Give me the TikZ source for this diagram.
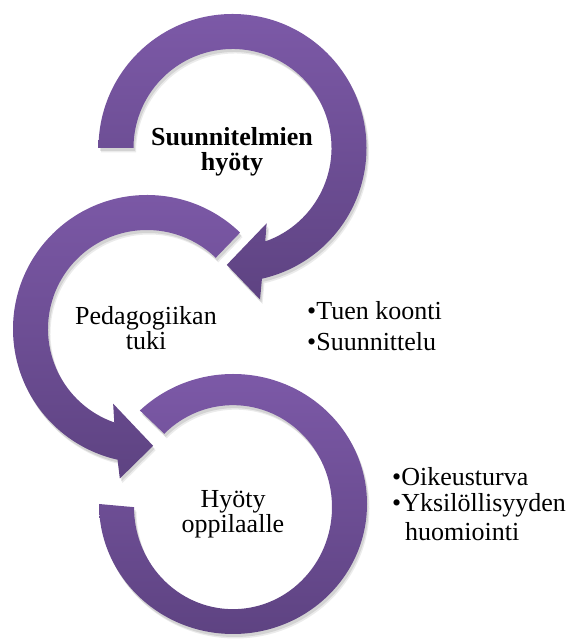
\documentclass[tikz,border=0pt]{standalone}
\usepackage{fontspec}
\setmainfont{Liberation Serif}
\usetikzlibrary{calc}
\definecolor{ptop}{RGB}{124,89,167}
\definecolor{pbot}{RGB}{94,67,130}
\tikzset{
  band/.style={top color=ptop, bottom color=pbot, draw=none,
    preaction={fill=black, fill opacity=0.10, transform canvas={xshift=1.5pt,yshift=-3pt}},
    preaction={fill=black, fill opacity=0.08, transform canvas={xshift=2.5pt,yshift=-4.5pt}}},
  lbl/.style={font=\fontsize{26}{25}\selectfont, align=center, text=black, inner sep=0pt},
  blt/.style={font=\fontsize{26}{28}\selectfont, align=left, text=black, inner sep=0pt, anchor=base west},
}
\begin{document}
\begin{tikzpicture}[x=1pt,y=1pt]
\useasboundingbox (0,0) rectangle (574,639);
\coordinate (C1) at (232.5,491);
\coordinate (C2) at (147,310);
\coordinate (C3) at (233,135);
\coordinate (C3i) at (233,134);
% bottom arrow
\path[band] ([shift={(-134pt,0pt)}]C3) arc[start angle=180, end angle=494, x radius=134pt, y radius=130pt]
  -- ([shift={(494:99pt)}]C3i) arc[start angle=494, end angle=180, x radius=99pt, y radius=102pt] -- cycle;
% middle arrow
\path[band] ([shift={(46:134pt)}]C2) arc[start angle=46, end angle=257.3, radius=134pt]
  -- ([shift={(259.7:152pt)}]C2) -- ([shift={(273:117pt)}]C2)
  -- ([shift={(245.6:82pt)}]C2) -- ([shift={(250.7:99pt)}]C2)
  arc[start angle=250.7, end angle=46, radius=99pt] -- cycle;
% top arrow
\path[band] ([shift={(180:134pt)}]C1) arc[start angle=180, end angle=-77.3, radius=134pt]
  -- ([shift={(-79.7:154pt)}]C1) -- ([shift={(-92.8:117pt)}]C1)
  -- ([shift={(-65.6:82.7pt)}]C1) -- ([shift={(-70.7:99pt)}]C1)
  arc[start angle=-70.7, end angle=180, radius=99pt] -- cycle;
% labels
\node[lbl, font=\fontsize{26}{25}\selectfont\bfseries] (t1) at (232,487) {Suunnitelmien\\hyöty};
\node[lbl] (t2) at (146,311) {Pedagogiikan\\tuki};
\node[lbl] (t3) at (233,125) {Hyöty\\oppilaalle};
\node[blt] (b1) at (307,319) {•Tuen koonti};
\node[blt] (b2) at (307,288) {•Suunnittelu};
\node[blt] (b3) at (392,153) {•Oikeusturva};
\node[blt] (b4) at (392,127) {•Yksilöllisyyden};
\node[blt] (b5) at (b4.base west) [yshift=-28.5pt, xshift=13pt] {huomiointi};
\end{tikzpicture}
\end{document}
